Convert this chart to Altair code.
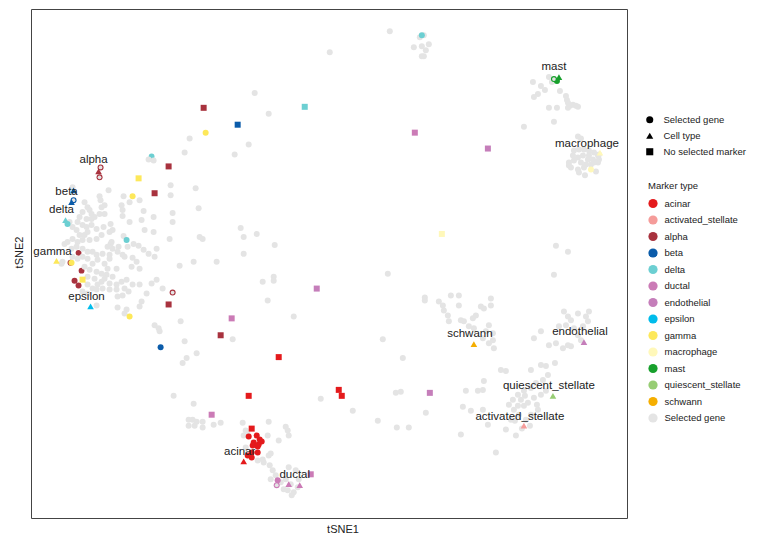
import altair as alt
import pandas as pd

FONT = "Liberation Sans"

MARKERS = ["acinar", "activated_stellate", "alpha", "beta", "delta", "ductal",
           "endothelial", "epsilon", "gamma", "macrophage", "mast",
           "quiescent_stellate", "schwann", "Selected gene"]
COLORS = ["#E41A1C", "#F59C9A", "#A8323E", "#0B5CAA", "#6CCFD2", "#CB7BB6",
          "#C57EBA", "#00BCEB", "#FDE85A", "#FFF8BA", "#17A02C", "#97CD74",
          "#F5AE00", "#E4E4E4"]
KINDS = ["Selected gene", "Cell type", "No selected marker"]

# ---- grey "Selected gene" points (tSNE1, tSNE2) ----
GRAY_LEFT_UPPER = [
    (-14.0, 12.6), (-14.5, 11.2), (-18.1, 10.5), (-17.6, 10.4), (-15.9, 7.9), (-13.4, 7.6),
    (-15.9, 6.9), (-13.1, 5.6), (-15.7, 5.1), (-17.6, 4.7), (-18.6, 5.3), (-18.8, 4.4),
    (-20.6, 6.8), (-20.0, 6.2), (-20.8, 5.9), (-22.1, 7.4), (-23.0, 6.8), (-22.8, 5.7),
    (-22.5, 5.9), (-22.5, 5.0), (-20.7, 4.8), (-21.9, 4.0), (-22.6, 3.7), (-21.7, 3.4),
    (-23.3, 2.5), (-20.6, 2.8), (-20.2, 1.7), (-21.1, 1.7), (-21.9, 2.0), (-22.2, 1.7),
    (-22.7, 1.0), (-22.0, 0.9), (-20.7, 0.9), (-19.6, 2.0), (-19.1, 1.8), (-18.6, 1.4),
    (-18.1, 1.0), (-17.5, 0.7), (-19.7, 0.6), (-13.0, 2.7), (-12.7, 2.5), (-11.3, 0.2),
    (-13.6, 0.2), (-25.7, 7.7)]
GRAY_LEFT_CLUSTER = [
    (-24.5, 6.2), (-24.2, 5.7), (-24.0, 5.4), (-23.8, 5.0), (-24.7, 5.2), (-25.0, 4.7),
    (-24.3, 4.5), (-23.8, 4.5), (-23.5, 4.7), (-23.0, 5.0), (-25.2, 4.2), (-24.7, 3.9),
    (-24.3, 3.7), (-23.8, 3.9), (-23.3, 3.5), (-26.0, 4.2), (-25.7, 3.7), (-25.3, 3.4),
    (-25.0, 2.9), (-24.5, 2.9), (-24.2, 3.2), (-25.7, 2.5), (-26.2, 2.2), (-26.5, 2.0),
    (-25.2, 2.2), (-24.7, 2.4), (-24.0, 2.4), (-22.8, 2.9), (-25.8, 1.5), (-25.3, 1.7),
    (-24.7, 1.5), (-24.2, 1.2), (-23.7, 1.2), (-23.3, 0.9), (-23.2, 0.4), (-23.7, 0.0),
    (-24.2, 0.5), (-24.7, 0.7), (-25.2, 0.5), (-25.7, 0.7), (-26.7, 0.2), (-26.8, 0.0),
    (-24.5, -0.3), (-24.0, -0.6), (-23.3, -0.8), (-22.8, -1.0), (-24.2, -1.3), (-23.5, -1.5),
    (-23.2, -2.1), (-24.2, -2.1), (-23.7, -2.5), (-22.8, -1.8), (-22.0, -2.0), (-21.3, -2.1),
    (-20.8, -1.8), (-20.3, -1.6), (-21.7, -1.3), (-22.3, -1.1), (-24.7, -2.8), (-24.2, -3.0),
    (-23.3, -2.6), (-22.7, -2.5), (-22.0, -2.6), (-21.3, -2.6), (-20.5, -2.5), (-19.7, -2.1),
    (-19.0, -2.1), (-18.3, -3.0), (-17.8, -2.0), (-17.3, -1.6), (-21.2, -4.4), (-20.3, -4.6),
    (-20.0, 4.2), (-20.7, 5.4), (-19.0, 6.4), (-18.5, 3.4), (-17.6, 3.2), (-15.7, 4.2),
    (-16.0, 2.5), (-17.3, 1.5), (-22.0, 3.2), (-21.8, 2.2), (-21.7, 1.5), (-21.2, 1.2),
    (-20.5, 0.7), (-19.3, 0.2), (-22.0, 0.5), (-22.5, 0.0), (-22.2, -0.5), (-21.3, -0.5),
    (-19.8, -0.3), (-19.0, -0.5), (-22.9, 6.4)]
GRAY_LEFT_LOWER = [
    (-14.9, -5.8), (-17.5, -6.2), (-17.1, -6.5), (-17.0, -6.8), (-14.5, -7.8), (-13.3, -9.0),
    (-14.3, -9.5), (-14.7, -10.0), (-15.6, -13.3), (-13.6, -14.1), (-14.1, -15.7), (-13.7, -15.7),
    (-13.3, -15.9), (-12.7, -15.9), (-14.1, -16.3), (-13.5, -16.3), (-12.7, -16.5), (-11.6, -16.2),
    (-10.9, -16.0), (-15.0, -0.2), (-16.7, -2.5), (-18.8, -3.8), (-19.0, -4.3), (-20.5, -5.0),
    (-23.3, -4.2), (-20.1, -2.8), (-20.7, -3.2), (-21.2, -3.3), (-22.5, -1.5)]
GRAY_TOP = [
    (6.0, 23.4), (9.0, 22.8), (9.4, 23.0), (8.4, 21.8), (9.2, 21.9), (9.9, 22.1), (9.6, 21.5),
    (9.2, 20.9), (9.4, 20.9), (0.0, 21.3), (-7.5, 17.2), (-6.1, 15.1), (-8.1, 12.0), (-9.5, 11.0),
    (-8.9, 3.6), (-8.6, 2.7), (-7.3, 3.0), (-5.5, 1.9), (-8.6, 1.0)]
GRAY_MAST = [
    (21.9, 18.8), (20.3, 18.3), (21.1, 17.9), (21.5, 17.5), (20.8, 17.1), (20.4, 16.8),
    (23.0, 17.4), (23.6, 16.9), (23.7, 16.5), (23.8, 16.2), (24.0, 15.9), (24.3, 16.0),
    (24.6, 15.9), (24.8, 15.8), (23.8, 15.7), (21.9, 15.7), (22.7, 15.7), (22.4, 14.3),
    (19.4, 13.8), (22.2, 18.3)]
GRAY_MACROPHAGE = [
    (24.8, 12.8), (25.1, 12.6), (24.4, 11.4), (24.9, 11.5), (25.4, 11.5), (25.9, 11.4),
    (26.4, 11.2), (26.8, 10.9), (26.9, 10.5), (26.8, 10.2), (26.1, 10.0), (25.6, 10.0),
    (25.1, 10.2), (24.4, 10.4), (23.9, 10.2), (24.1, 9.7), (24.8, 9.5), (24.9, 9.2),
    (25.5, 8.9), (26.6, 9.3), (25.8, 10.5), (26.3, 10.5), (25.3, 10.9), (24.8, 10.7),
    (24.3, 10.9), (26.9, 11.0), (23.9, 9.9), (25.4, 9.7), (25.9, 10.9), (26.4, 10.2),
    (22.6, 1.8), (23.8, 1.2), (22.4, -1.1)]
GRAY_MIDDLE = [
    (-5.6, -1.3), (-5.6, -1.7), (-6.7, -1.8), (5.8, -1.0), (-6.2, -3.7), (9.5, -3.4),
    (9.5, -3.7), (-3.6, -5.3), (-9.7, -7.6), (5.3, -7.6), (7.3, -9.5), (-0.9, -13.6),
    (2.3, -14.8), (4.8, -15.8), (6.6, -13.0), (7.1, -12.9), (9.6, -15.0), (6.7, -16.5),
    (7.9, -16.5)]
GRAY_ACINAR_DUCTAL = [
    (-8.7, -16.0), (-8.4, -16.8), (-8.2, -17.2), (-6.1, -15.9), (-6.2, -17.3), (-5.1, -17.8),
    (-4.4, -16.4), (-4.2, -16.8), (-4.1, -17.3), (-6.1, -19.3), (-6.7, -19.7), (-7.2, -19.8),
    (-6.6, -20.0), (-8.4, -18.5), (-8.6, -17.3), (-5.9, -19.1),
    (-6.0, -20.3), (-5.7, -20.8), (-5.4, -21.3), (-4.6, -22.7), (-4.2, -22.8), (-3.8, -23.3),
    (-3.6, -23.0), (-3.2, -22.5), (-3.9, -22.2), (-4.4, -21.7), (-4.9, -22.0), (-4.1, -20.5),
    (-3.4, -20.8), (-3.1, -21.7), (-5.9, -21.7)]
GRAY_SCHWANN = [
    (10.9, -3.8), (11.3, -4.2), (11.4, -4.7), (12.1, -3.2), (12.9, -3.2), (12.9, -4.2),
    (11.8, -5.2), (11.9, -5.8), (13.1, -5.7), (13.4, -5.8), (14.3, -5.5), (14.6, -5.2),
    (15.1, -4.3), (15.4, -4.5), (16.1, -3.5), (16.1, -4.2), (15.9, -6.2), (15.6, -6.8),
    (16.3, -7.0), (16.3, -7.7), (16.4, -8.5), (15.9, -8.0), (15.3, -7.5), (14.4, -6.5),
    (13.9, -6.3)]
GRAY_ENDOTHELIAL = [
    (23.4, -4.8), (23.8, -5.3), (24.1, -5.7), (24.8, -5.0), (25.6, -5.3), (25.9, -4.8),
    (25.8, -5.8), (25.3, -6.3), (24.4, -6.5), (23.6, -6.2), (22.9, -6.3), (24.8, -7.2),
    (25.1, -7.7), (23.8, -8.2), (23.3, -8.5), (24.1, -8.3), (22.6, -8.0), (21.9, -8.2),
    (20.4, -7.5), (21.1, -6.8)]
GRAY_STELLATE = [
    (17.1, -10.7), (17.6, -10.8), (20.1, -10.7), (21.1, -10.2), (21.6, -10.3), (22.5, -10.0),
    (21.8, -11.2), (21.3, -11.7), (20.6, -12.0), (20.1, -12.5), (19.4, -12.8), (18.8, -13.2),
    (18.3, -13.7), (17.9, -14.2), (18.4, -14.7), (18.9, -15.2), (18.1, -15.7), (17.6, -16.7),
    (18.6, -17.3), (19.6, -15.7), (20.1, -15.2), (20.8, -14.7), (19.8, -14.0), (20.4, -13.5),
    (21.1, -13.2), (21.6, -12.8), (15.4, -11.8), (15.3, -12.7), (14.8, -12.8), (13.6, -12.8),
    (13.3, -14.4), (14.1, -14.8), (15.3, -14.7), (15.8, -16.2), (13.1, -17.2), (16.6, -19.0),
    (19.4, -14.3), (19.1, -13.7), (20.7, -14.2), (18.8, -14.3), (19.5, -13.3), (18.5, -15.8),
    (20.0, -16.3), (19.2, -16.6)]

# ---- coloured points ----
UNDER_GENES = {  # partly hidden under grey points
    "delta": [(-17.8, 10.8)],
    "alpha": [(-25.1, 1.1), (-24.8, -0.7)],
}
RING_GENES = {
    "alpha": [(-22.9, 9.7), (-23.0, 8.7), (-15.7, -2.9)],
    "beta": [(-25.6, 6.4)],
    "ductal": [(-5.3, -22.3)],
    "mast": [(22.4, 18.6)],
}
SELECTED_GENES = {
    "alpha": [(-25.5, -1.7), (-25.1, -2.2), (-25.9, 0.1)],
    "gamma": [(-12.4, 13.2), (-19.7, 6.8), (-20.0, -5.3), (-25.8, 0.1)],
    "delta": [(-20.3, 2.4), (-26.2, 4.0), (9.2, 23.0)],
    "beta": [(-16.9, -8.4)],
    "acinar": [(-8.1, -17.4), (-7.3, -17.3), (-7.0, -17.7), (-6.8, -17.9), (-7.2, -18.4),
               (-7.6, -18.0), (-7.7, -18.3), (-7.8, -19.0), (-7.2, -19.0), (-7.8, -19.5),
               (-8.2, -19.3), (-7.1, -18.2)],
    "ductal": [(-5.2, -21.8)],
    "macrophage": [(26.1, 9.5)],
    "mast": [(22.7, 18.4)],
}
NO_MARKER = {
    "alpha": [(-12.6, 15.7), (-16.1, 9.8), (-17.5, 7.1), (-16.1, -4.1), (-10.9, -7.2)],
    "gamma": [(-19.1, 8.6), (-24.7, -1.6)],
    "delta": [(-2.5, 15.8)],
    "beta": [(-9.2, 14.0)],
    "ductal": [(8.5, 13.2), (-9.8, -5.5), (-11.8, -15.2), (-1.9, -21.2)],
    "endothelial": [(15.8, 11.6), (-1.3, -2.5), (10.0, -13.0)],
    "macrophage": [(11.2, 3.0)],
    "acinar": [(-5.1, -9.4), (-8.1, -13.3), (0.9, -12.7), (1.2, -13.3), (-7.8, -16.6)],
}
CELL_TYPES = {
    "alpha": [(-23.1, 9.3)],
    "beta": [(-25.6, 7.4), (-25.8, 6.2)],
    "delta": [(-26.4, 4.4)],
    "gamma": [(-27.3, 0.3)],
    "epsilon": [(-23.9, -4.3)],
    "acinar": [(-8.6, -19.9)],
    "ductal": [(-4.1, -22.2), (-3.0, -22.3)],
    "schwann": [(14.4, -8.1)],
    "endothelial": [(25.4, -7.9)],
    "quiescent_stellate": [(22.3, -13.3)],
    "activated_stellate": [(19.4, -16.3)],
    "mast": [(22.9, 18.8)],
    "macrophage": [(27.0, 11.2)],
}

LABEL_TEXT = ["alpha", "beta", "delta", "gamma", "epsilon", "acinar", "ductal", "schwann",
              "endothelial", "quiescent_stellate", "activated_stellate", "mast", "macrophage"]
LABEL_T1 = [-23.6, -26.3, -26.8, -27.7, -24.3, -9.0, -3.5, 14.0, 25.0, 21.9, 19.0, 22.4, 25.7]
LABEL_T2 = [10.4, 7.2, 5.4, 1.2, -3.3, -19.0, -21.3, -7.1, -6.9, -12.3, -15.4, 19.8, 12.1]

# ---- build table ----
rows = []
def add(points, marker, kind, group):
    for t1, t2 in points:
        rows.append({"t1": t1, "t2": t2, "marker": marker, "kind": kind, "group": group})

for m, pts in UNDER_GENES.items():
    add(pts, m, "Selected gene", "under")
for pts in [GRAY_LEFT_UPPER, GRAY_LEFT_CLUSTER, GRAY_LEFT_LOWER, GRAY_TOP, GRAY_MAST,
            GRAY_MACROPHAGE, GRAY_MIDDLE, GRAY_ACINAR_DUCTAL, GRAY_SCHWANN,
            GRAY_ENDOTHELIAL, GRAY_STELLATE]:
    add(pts, "Selected gene", "Selected gene", "gray")
for m, pts in RING_GENES.items():
    add(pts, m, "Selected gene", "ring")
for m, pts in SELECTED_GENES.items():
    add(pts, m, "Selected gene", "top")
for m, pts in NO_MARKER.items():
    add(pts, m, "No selected marker", "top")
for m, pts in CELL_TYPES.items():
    add(pts, m, "Cell type", "tri")

df = pd.DataFrame(rows)
labels = pd.DataFrame({"t1": LABEL_T1, "t2": LABEL_T2, "text": LABEL_TEXT})

xenc = alt.X("t1:Q", scale=alt.Scale(domain=[-29.85, 29.7], nice=False, zero=False),
             axis=alt.Axis(title="tSNE1", titleX=311.5, titlePadding=5))
yenc = alt.Y("t2:Q", scale=alt.Scale(domain=[-25.6, 25.65], nice=False, zero=False),
             axis=alt.Axis(title="tSNE2", titleY=243, titlePadding=6.5))

legend_common = dict(labelFont=FONT, labelFontSize=9.5, labelColor="#222222",
                     titleFont=FONT, titleFontSize=9.5, titleFontWeight="normal",
                     titleColor="#222222", padding=0, orient="none", direction="vertical",
                     symbolOpacity=1, symbolStrokeWidth=0)

color = alt.Color("marker:N", scale=alt.Scale(domain=MARKERS, range=COLORS),
                  legend=alt.Legend(title="Marker type", legendX=617, legendY=172,
                                    titlePadding=8, rowPadding=6.5, labelOffset=6.5,
                                    symbolType="circle", symbolSize=85, **legend_common))
shape = alt.Shape("kind:N", scale=alt.Scale(domain=KINDS, range=["circle", "triangle-up", "square"]),
                  legend=alt.Legend(title=None, legendX=614, legendY=106, rowPadding=5,
                                    labelOffset=9, symbolSize=50, symbolFillColor="black",
                                    symbolStrokeColor="black", **legend_common))

base = alt.Chart(df).encode(x=xenc, y=yenc, color=color, shape=shape)
pt = dict(filled=True, opacity=1, strokeWidth=0)

under = base.transform_filter(alt.datum.group == "under").mark_point(size=34, **pt)
gray = base.transform_filter(alt.datum.group == "gray").mark_point(size=36, **pt)
top = base.transform_filter(
    alt.FieldOneOfPredicate(field="group", oneOf=["ring", "top"])).mark_point(size=36, **pt)
ring_inner = alt.Chart(df).transform_filter(alt.datum.group == "ring").mark_point(
    size=14, filled=True, opacity=1, strokeWidth=0, shape="circle", color="#E4E4E4"
).encode(x=xenc, y=yenc)
tri = base.transform_filter(alt.datum.group == "tri").mark_point(size=44, **pt)
text = alt.Chart(labels).mark_text(font=FONT, fontSize=11.5, color="#222222").encode(
    x=xenc, y=yenc, text="text:N")

chart = alt.layer(under, gray, top, ring_inner, tri, text).properties(
    width=596, height=509,
    padding={"left": 5, "top": 1, "right": 5, "bottom": 5},
    background="white",
).configure_view(stroke="#444444", strokeWidth=1).configure_axis(
    grid=False, domain=False, ticks=False, labels=False,
    titleFont=FONT, titleFontSize=11, titleFontWeight="normal", titleColor="#222222",
)

chart.save("out.html", embed_options={"renderer": "svg", "actions": False})
